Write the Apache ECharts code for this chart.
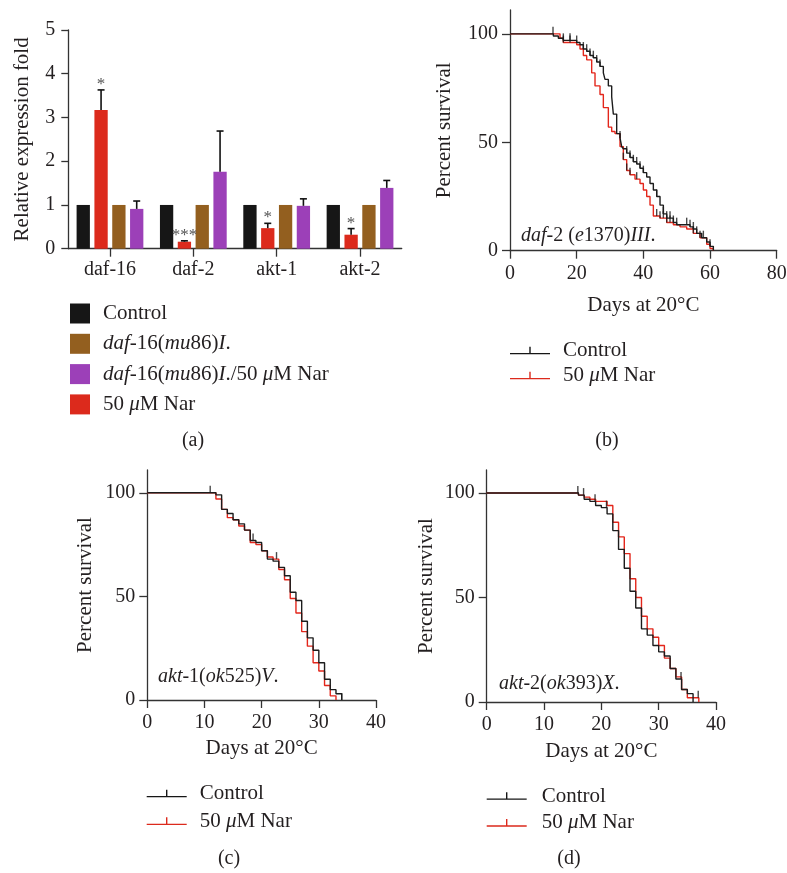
<!DOCTYPE html>
<html>
<head>
<meta charset="utf-8">
<script src="https://cdn.jsdelivr.net/npm/echarts@6/dist/echarts.min.js"></script>
<style>
  html, body { margin: 0; padding: 0; background: #fff; }
  #main { width: 787px; height: 873px; }
</style>
</head>
<body>
<div id="main"></div>
<script>
// (a) relative expression fold
var genes = ['daf-16', 'daf-2', 'akt-1', 'akt-2'];
var ctrlFold = [1, 1, 1, 1];
var narFold = [3.17, 0.16, 0.47, 0.32];
var narFoldErr = [3.63, 0.18, 0.58, 0.46];
var narSig = ['*', '***', '*', '*'];
var mutFold = [1, 1, 1, 1];
var mutNarFold = [0.91, 1.76, 0.98, 1.39];
var mutNarFoldErr = [1.09, 2.69, 1.14, 1.56];

// (b) daf-2(e1370)III.  [day, percent survival]
var ctrlB = [[0,100],[13,99],[14.5,98],[16,97],[20,96],[21,95],[22,93],[23,92],[24,90],[25,89],[26,87],[27,85],[28,82],[28.5,79],[29.5,76],[30.5,71],[31,63],[32,54],[33,52],[33.5,48],[34,47],[35,45],[36,43],[37,41],[38,40],[39,38],[40,36],[41,34],[42,31],[43,28],[44,25],[45,21],[46,17],[47,15],[49,13],[50,12],[54,11],[55,10],[56,8],[57.5,6],[59,4],[60,2],[61,0]];
var narB = [[0,100],[15,98],[16,96],[20,95],[21,93],[22,90],[23,88],[24.5,82],[25.5,76],[27,72],[28,66],[29.5,57],[30.5,55],[31.5,54],[33,48],[34,42],[35,37],[36,35],[37.5,33],[39,31],[40,28],[41,25],[42,21],[43,16],[45,15],[47,13],[49,12],[51,11],[53,10],[55,8],[57,6],[59,3],[60,1],[61,0]];
var censCtrlB = [[12.9,100],[16,97],[18,97],[20,96],[22,93],[23,92],[24,90],[25,89],[26,87],[27,85],[33,52],[35,45],[36,43],[37,41],[38,40],[39,38],[40,36],[44,25],[46,17],[47,15],[48,15],[49,13],[50,12],[53,12],[54,11],[55,10],[56,8],[58,6],[60,2]];
var censNarB = [[16,96],[18,96],[34,42],[35,37],[36,35],[38,33],[44,16],[45,15],[46,15],[47,13],[48,13],[55,8],[57,6]];

// (c) akt-1(ok525)V.
var ctrlC = [[0,100],[12,99],[13,92],[14,90],[15,87],[16,85],[17,82],[18,77],[19,76],[20,72],[21,68],[22,67],[23,64],[24,60],[25,52],[26,48],[27,38],[28,30],[29,24],[30,18],[31,10],[32,5],[33,3],[34,0]];
var narC = [[0,100],[12,97],[13,92],[14,88],[15,87],[16,84],[17,82],[18,76],[19,75],[20,72],[21,69],[22,68],[23,63],[24,58],[25,49],[26,42],[27,33],[28,26],[29,18],[30,14],[31,7],[32,2],[33,0]];
var censCtrlC = [[11,100],[18.5,77],[34,0]];
var censNarC = [[22.6,68]];

// (d) akt-2(ok393)X.
var ctrlD = [[0,100],[16,99],[17,97],[18,96],[19,94],[20,93],[21,90],[22,82],[23,73],[24,64],[25,53],[26,45],[27,35],[28,32],[29,27],[30,24],[31,22],[32,16],[33,11],[34,6],[35,4],[36,0]];
var narD = [[0,100],[16,99],[17,98],[18,97],[19,96],[21,94],[22,86],[23,79],[24,71],[25,59],[26,50],[27,41],[28,35],[29,31],[30,27],[31,21],[32,16],[33,12],[34,6],[35,2],[37,0]];
var censCtrlD = [[15.9,100],[16.9,99],[18.9,96],[20.9,93],[33.9,11]];
var censNarD = [[36.9,2]];

var SERIF = '"Liberation Serif", "DejaVu Serif", serif';
var TXT = '#231f20';
var AX = '#333';
var BAR_W = 13.3;
var BAR_PITCH = BAR_W * 1.34;

var errData = [];
genes.forEach(function (g, i) {
  errData.push({ value: [i, narFoldErr[i], narFold[i], 1], sig: narSig[i] });
  errData.push({ value: [i, mutNarFoldErr[i], mutNarFold[i], 3], sig: '' });
});

function renderErr(params, api) {
  var i = api.value(0), top = api.value(1), base = api.value(2), slot = api.value(3);
  var p0 = api.coord([i, base]);
  var p1 = api.coord([i, top]);
  var x = p0[0] + (slot - 1.5) * BAR_PITCH;
  var st = { stroke: '#111', lineWidth: 1.6 };
  var kids = [
    { type: 'line', shape: { x1: x, y1: p0[1], x2: x, y2: p1[1] }, style: st },
    { type: 'line', shape: { x1: x - 3.5, y1: p1[1], x2: x + 3.5, y2: p1[1] }, style: st }
  ];
  var sig = errData[params.dataIndex].sig;
  if (sig) {
    kids.push({ type: 'text', style: { text: sig, x: x, y: p1[1] + 3, align: 'center', verticalAlign: 'bottom', font: '17px ' + SERIF, fill: '#555' } });
  }
  return { type: 'group', children: kids };
}

function axisBase() {
  return {
    axisLine: { show: true, lineStyle: { color: AX, width: 1.3 } },
    axisTick: { show: true, length: 8, lineStyle: { color: AX, width: 1.3 } },
    axisLabel: { color: TXT, fontFamily: SERIF, fontSize: 20 },
    splitLine: { show: false },
    nameTextStyle: { color: TXT, fontFamily: SERIF, fontSize: 21 }
  };
}

function daysAxis(grid, max, interval, gap) {
  var a = axisBase();
  a.type = 'value'; a.gridIndex = grid; a.min = 0; a.max = max; a.interval = interval;
  a.name = 'Days at 20°C'; a.nameLocation = 'middle'; a.nameGap = gap;
  a.axisLabel.margin = 13;
  return a;
}

function survAxis(grid, gap) {
  var a = axisBase();
  a.type = 'value'; a.gridIndex = grid; a.min = 0; a.max = 111;
  a.axisTick.customValues = [0, 50, 100];
  a.axisLabel.customValues = [0, 50, 100];
  a.axisLabel.margin = 12;
  a.name = 'Percent survival'; a.nameLocation = 'middle'; a.nameGap = gap;
  return a;
}

function kmLine(name, data, idx, color) {
  return {
    name: name, type: 'line', step: 'end', data: data, xAxisIndex: idx, yAxisIndex: idx,
    showSymbol: false, symbol: 'none', animation: false, silent: true,
    lineStyle: { color: color, width: 1.4 }, itemStyle: { color: color }
  };
}

function censor(data, idx) {
  return {
    type: 'scatter', data: data, xAxisIndex: idx, yAxisIndex: idx,
    symbol: 'rect', symbolSize: [1.4, 7], symbolOffset: [0, -3.5],
    itemStyle: { color: '#1c1c1c' }, silent: true, animation: false, z: 5
  };
}

function italicize(name) {
  return name.replace('daf', '{i|daf}').replace('mu86', '{i|mu}86').replace('I.', '{i|I}.').replace('μ', '{i|μ}');
}

function legendText(pad) {
  return {
    color: TXT, fontFamily: SERIF, fontSize: 21, lineHeight: 20, padding: [0, 0, 0, pad],
    rich: { i: { fontStyle: 'italic', fontFamily: SERIF, fontSize: 21, lineHeight: 20, color: TXT } }
  };
}
var kmIcon = 'path://M0,6.3h40v1.4h-40z M19.3,0h1.4v6.3h-1.4z';

function kmLegend(left, top, gap, pad) {
  return {
    left: left, top: top, orient: 'vertical', padding: 0, itemWidth: 40, itemHeight: 7.7, itemGap: gap,
    icon: kmIcon, data: ['Control', '50 μM Nar'], textStyle: legendText(pad), formatter: italicize,
    selectedMode: false
  };
}

var chart = echarts.init(document.getElementById('main'));
var yA = axisBase();
yA.type = 'value'; yA.gridIndex = 0; yA.min = 0; yA.max = 5; yA.interval = 1;
yA.name = 'Relative expression fold'; yA.nameLocation = 'middle'; yA.nameGap = 35;
yA.axisTick.length = 7; yA.axisLabel.margin = 13;
var xA = axisBase();
xA.type = 'category'; xA.gridIndex = 0; xA.data = genes;
xA.axisTick.alignWithLabel = true; xA.axisTick.interval = 0; xA.axisLabel.margin = 11;

chart.setOption({
  backgroundColor: '#fff',
  animation: false,
  grid: [
    { left: 68.3, top: 30, width: 333.4, height: 218.7, outerBoundsMode: 'none' },
    { left: 510, top: 10, width: 266.7, height: 240.7, outerBoundsMode: 'none' },
    { left: 147.3, top: 470, width: 228.7, height: 230, outerBoundsMode: 'none' },
    { left: 486.7, top: 470, width: 229.3, height: 232, outerBoundsMode: 'none' }
  ],
  xAxis: [xA, daysAxis(1, 80, 20, 44), daysAxis(2, 40, 10, 38), daysAxis(3, 40, 10, 39)],
  yAxis: [yA, survAxis(1, 55), survAxis(2, 51), survAxis(3, 50)],
  legend: [
    {
      left: 70, top: 303, orient: 'vertical', padding: 0, itemWidth: 20, itemHeight: 20, itemGap: 9.3,
      icon: 'rect', selectedMode: false,
      data: ['Control', 'daf-16(mu86)I.', 'daf-16(mu86)I./50 μM Nar', '50 μM Nar'],
      textStyle: legendText(8), formatter: italicize
    },
    kmLegend(510, 340, 4, 8),
    kmLegend(146.7, 783, 6.7, 8),
    kmLegend(486.7, 785.5, 5.8, 10)
  ],
  series: [
    { name: 'Control', type: 'bar', data: ctrlFold, barWidth: BAR_W, barGap: '34%', itemStyle: { color: '#161616' } },
    { name: '50 μM Nar', type: 'bar', data: narFold, barWidth: BAR_W, barGap: '34%', itemStyle: { color: '#dc2a1c' } },
    { name: 'daf-16(mu86)I.', type: 'bar', data: mutFold, barWidth: BAR_W, barGap: '34%', itemStyle: { color: '#935f1f' } },
    { name: 'daf-16(mu86)I./50 μM Nar', type: 'bar', data: mutNarFold, barWidth: BAR_W, barGap: '34%', itemStyle: { color: '#9c40b8' } },
    { type: 'custom', renderItem: renderErr, data: errData, xAxisIndex: 0, yAxisIndex: 0, z: 4, silent: true },
    kmLine('50 μM Nar', narB, 1, '#e3261b'),
    kmLine('Control', ctrlB, 1, '#1c1c1c'),
    censor(censNarB, 1), censor(censCtrlB, 1),
    kmLine('50 μM Nar', narC, 2, '#e3261b'),
    kmLine('Control', ctrlC, 2, '#1c1c1c'),
    censor(censNarC, 2), censor(censCtrlC, 2),
    kmLine('50 μM Nar', narD, 3, '#e3261b'),
    kmLine('Control', ctrlD, 3, '#1c1c1c'),
    censor(censNarD, 3), censor(censCtrlD, 3)
  ],
  graphic: [
    { type: 'text', left: 521, top: 226, style: { text: '{i|daf}-2 ({i|e}1370){i|III}.', font: '20px ' + SERIF, fill: TXT, rich: { i: { fontStyle: 'italic', fontFamily: SERIF, fontSize: 20, fill: TXT } } } },
    { type: 'text', left: 158, top: 667, style: { text: '{i|akt}-1({i|ok}525){i|V}.', font: '20px ' + SERIF, fill: TXT, rich: { i: { fontStyle: 'italic', fontFamily: SERIF, fontSize: 20, fill: TXT } } } },
    { type: 'text', left: 499, top: 674, style: { text: '{i|akt}-2({i|ok}393){i|X}.', font: '20px ' + SERIF, fill: TXT, rich: { i: { fontStyle: 'italic', fontFamily: SERIF, fontSize: 20, fill: TXT } } } },
    { type: 'text', x: 193, y: 441, style: { text: '(a)', font: '20px ' + SERIF, fill: TXT, align: 'center', verticalAlign: 'middle' } },
    { type: 'text', x: 607, y: 441, style: { text: '(b)', font: '20px ' + SERIF, fill: TXT, align: 'center', verticalAlign: 'middle' } },
    { type: 'text', x: 229, y: 859, style: { text: '(c)', font: '20px ' + SERIF, fill: TXT, align: 'center', verticalAlign: 'middle' } },
    { type: 'text', x: 569, y: 859, style: { text: '(d)', font: '20px ' + SERIF, fill: TXT, align: 'center', verticalAlign: 'middle' } }
  ]
});
</script>
</body>
</html>
